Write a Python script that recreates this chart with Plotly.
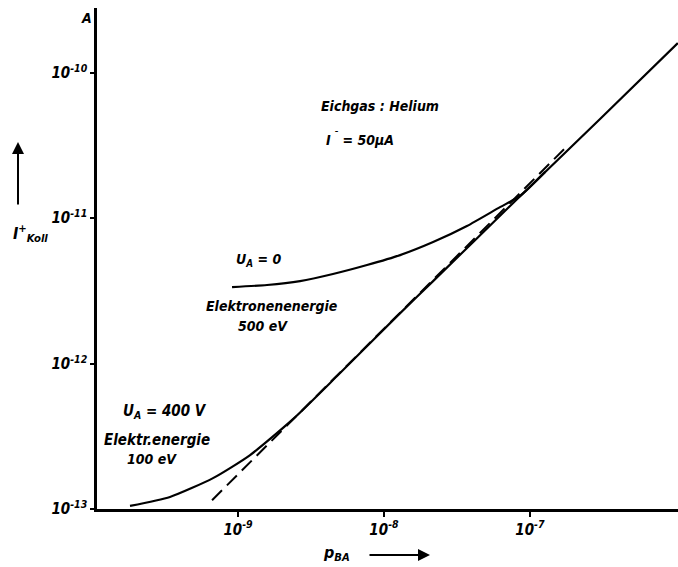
import plotly.graph_objects as go

# ---- data ----
# U_A = 400 V, electron energy 100 eV
p_400 = [1.82e-10, 3.42e-10, 6.74e-10, 1.21e-9, 2.38e-9, 4.77e-9,
         1.23e-8, 2.17e-8, 8.15e-8, 3.02e-7, 1.03e-6]
i_400 = [1.05e-13, 1.21e-13, 1.63e-13, 2.35e-13, 4.15e-13, 8.21e-13,
         2.12e-12, 3.69e-12, 1.35e-11, 4.80e-11, 1.60e-10]
# U_A = 0, electron energy 500 eV
p_0 = [9.10e-10, 1.58e-9, 2.66e-9, 4.47e-9, 7.65e-9, 1.29e-8, 2.17e-8,
       3.70e-8, 6.23e-8, 8.54e-8, 1.27e-7]
i_0 = [3.36e-12, 3.47e-12, 3.69e-12, 4.13e-12, 4.76e-12, 5.57e-12, 6.85e-12,
       8.83e-12, 1.19e-11, 1.42e-11, 2.08e-11]
# dashed reference line
p_ref = [6.64e-10, 1.77e-7]
i_ref = [1.15e-13, 3.08e-11]

x_tickvals = [1e-9, 1e-8, 1e-7]
x_ticktext = ["10<sup>-9</sup>", "10<sup>-8</sup>", "10<sup>-7</sup>"]
y_tickvals = [1e-13, 1e-12, 1e-11, 1e-10]
y_ticktext = ["10<sup>-13</sup>", "10<sup>-12</sup>", "10<sup>-11</sup>", "10<sup>-10</sup>"]

FONT = "Liberation Sans Narrow, DejaVu Sans Condensed, Arial Narrow, sans-serif"

def bi(s):
    return "<b><i>" + s + "</i></b>"

fig = go.Figure()
fig.add_trace(go.Scatter(x=p_ref, y=i_ref, mode="lines",
                         line=dict(color="black", width=2, dash="14px,7px"),
                         showlegend=False, hoverinfo="skip"))
fig.add_trace(go.Scatter(x=p_400, y=i_400, mode="lines",
                         line=dict(color="black", width=2.2, shape="spline", smoothing=0.6),
                         showlegend=False))
fig.add_trace(go.Scatter(x=p_0, y=i_0, mode="lines",
                         line=dict(color="black", width=2.2, shape="spline", smoothing=0.6),
                         showlegend=False))

fig.update_xaxes(type="log", range=[-9.966, -5.986], showgrid=False, zeroline=False,
                 showline=True, linecolor="black", linewidth=2.5,
                 ticks="outside", ticklen=5, tickwidth=1.5, tickcolor="black",
                 tickvals=x_tickvals, ticktext=[bi(t) for t in x_ticktext],
                 tickfont=dict(family=FONT, size=15, color="black"))
fig.update_yaxes(type="log", range=[-13, -9.555], showgrid=False, zeroline=False,
                 showline=True, linecolor="black", linewidth=2.5,
                 ticks="outside", ticklen=4, tickwidth=1.5, tickcolor="black",
                 tickvals=y_tickvals, ticktext=[bi(t) for t in y_ticktext],
                 tickfont=dict(family=FONT, size=15, color="black"))

def ann(x, y, text, size=14, xanchor="center", ref="data"):
    r = ("x", "y") if ref == "data" else ("paper", "paper")
    fig.add_annotation(x=x, y=y, xref=r[0], yref=r[1], text=bi(text), showarrow=False,
                       xanchor=xanchor, yanchor="middle",
                       font=dict(family=FONT, size=size, color="black"))

def px2data(px, py):
    lx = -9 + (px - 238) / 146.0
    ly = -10 - (py - 72.7) / 145.4
    return lx, ly

for (px, py, t, s) in [
    (380, 106, "Eichgas : Helium", 14),
    (360, 139, "I<sup> ˉ</sup> = 50μA", 14),
    (258, 260, "U<sub>A</sub> = 0", 14),
    (272, 306, "Elektronenenergie", 14),
    (263, 326, "500 eV", 14),
    (165, 411, "U<sub>A</sub> = 400 V", 15),
    (157, 440, "Elektr.energie", 15),
    (152, 459, "100 eV", 14),
    (600, 535, "Torr", 13),
]:
    lx, ly = px2data(px, py)
    ann(lx, ly, t, s)

# axis labels in paper coordinates
W, L, T, B = 581, 97, 8, 501
def paper(px, py):
    return (px - L) / W, 1 - (py - T) / B

x0, y0 = paper(86, 18)
ann(x0, y0, "A", 14, ref="paper")
x0, y0 = paper(30, 233)
ann(x0, y0, "I<sup>+</sup><sub>Koll</sub>", 16, ref="paper")
x0, y0 = paper(336, 553)
ann(x0, y0, "p<sub>BA</sub>", 16, ref="paper")

# arrows
hx, hy = paper(18, 142)
fig.add_annotation(x=hx, y=hy, xref="paper", yref="paper", text="", showarrow=True,
                   ax=0, ay=64, arrowhead=2, arrowsize=1.2, arrowwidth=2, arrowcolor="black")
hx, hy = paper(430, 555)
fig.add_annotation(x=hx, y=hy, xref="paper", yref="paper", text="", showarrow=True,
                   ax=-62, ay=0, arrowhead=2, arrowsize=1.2, arrowwidth=2, arrowcolor="black")

fig.update_layout(width=678, height=567, margin=dict(l=L, r=0, t=T, b=567 - T - B),
                  paper_bgcolor="white", plot_bgcolor="white",
                  font=dict(family=FONT, color="black"))
fig.write_html("out.html")
